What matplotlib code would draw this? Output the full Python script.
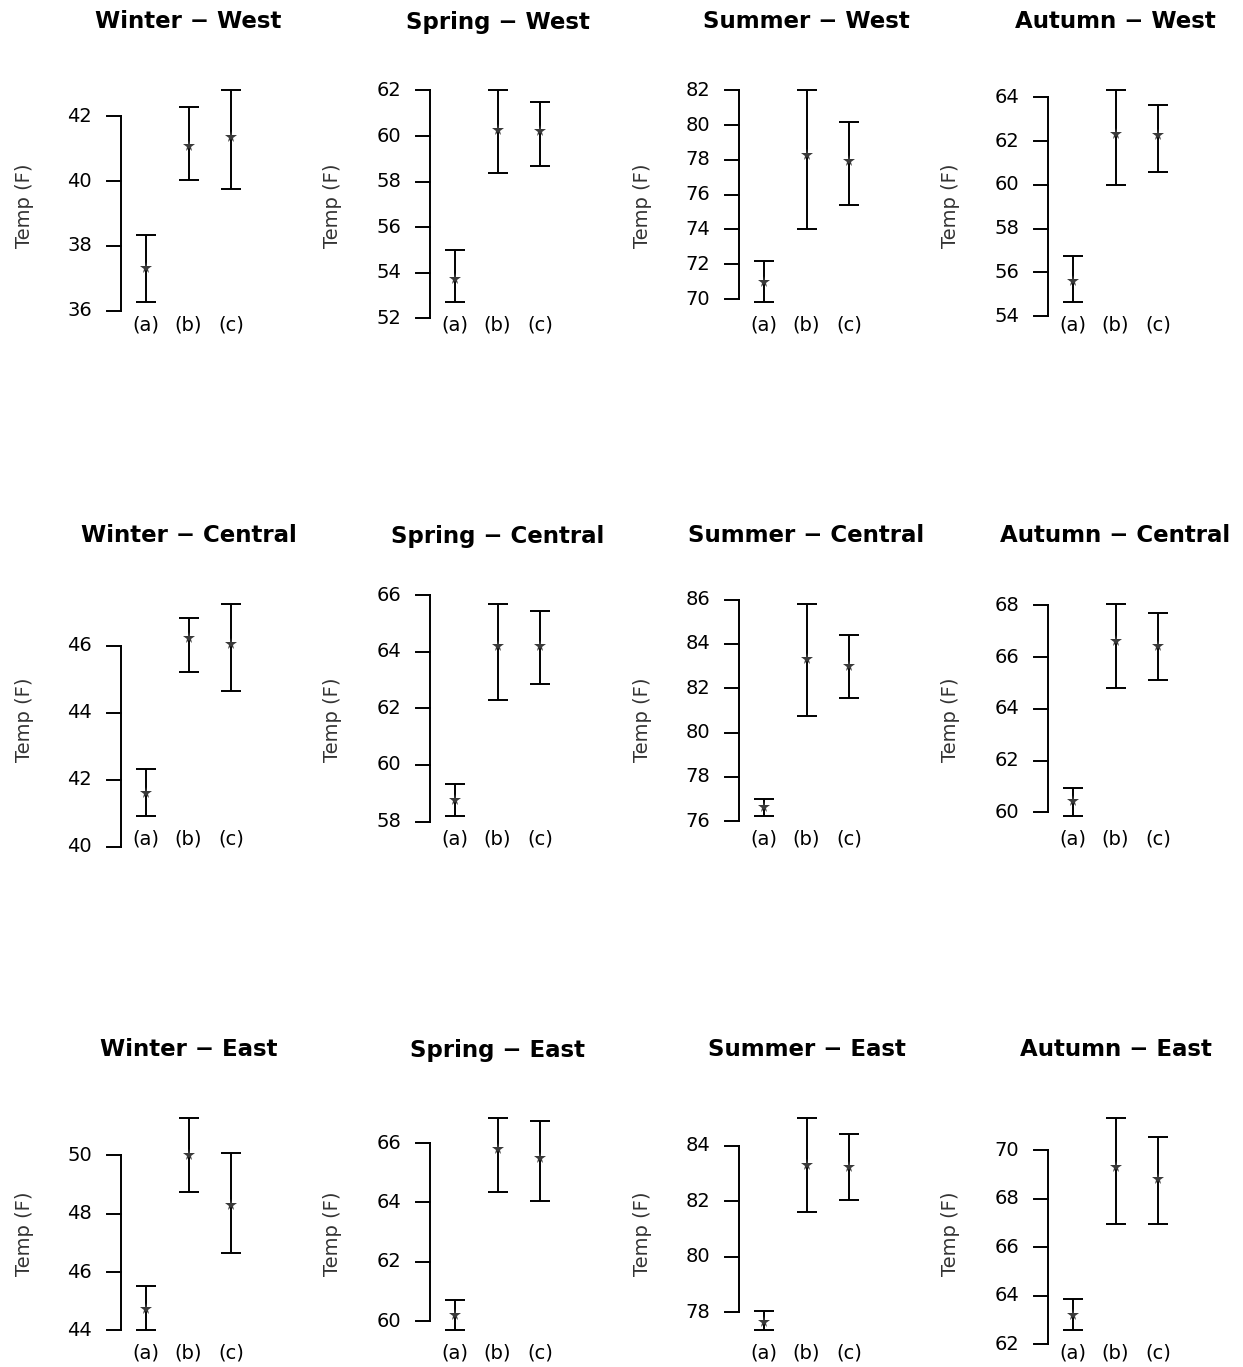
import numpy as np
import matplotlib.pyplot as plt

seasons = ["Winter", "Spring", "Summer", "Autumn"]
regions = ["West", "Central", "East"]
groups = ["(a)", "(b)", "(c)"]

# mean, lower and upper end of the error bar, one row per season
west_mean = [[37.30, 41.10, 41.37], [53.75, 60.25, 60.20], [71.00, 78.30, 77.96], [55.63, 62.33, 62.28]]
west_lo = [[36.25, 40.03, 39.75], [52.70, 58.36, 58.70], [69.80, 74.00, 75.40], [54.63, 60.00, 60.60]]
west_hi = [[38.35, 42.30, 42.83], [54.98, 62.04, 61.50], [72.20, 82.05, 80.20], [56.76, 64.36, 63.64]]

central_mean = [[41.59, 46.25, 46.06], [58.76, 64.20, 64.20], [76.63, 83.30, 83.00], [60.43, 66.63, 66.44]]
central_lo = [[40.90, 45.22, 44.66], [58.18, 62.30, 62.86], [76.22, 80.73, 81.54], [59.84, 64.80, 65.11]]
central_hi = [[42.33, 46.84, 47.27], [59.33, 65.70, 65.42], [77.03, 85.82, 84.40], [60.94, 68.07, 67.69]]

east_mean = [[44.73, 50.00, 48.29], [60.20, 65.79, 65.49], [77.67, 83.31, 83.24], [63.22, 69.31, 68.82]]
east_lo = [[44.00, 48.74, 46.65], [59.69, 64.35, 64.05], [77.35, 81.61, 82.05], [62.57, 66.98, 66.98]]
east_hi = [[45.53, 51.29, 50.07], [60.72, 66.86, 66.75], [78.04, 85.01, 84.40], [63.88, 71.35, 70.53]]

west_ticks = [[36, 38, 40, 42], [52, 54, 56, 58, 60, 62], [70, 72, 74, 76, 78, 80, 82], [54, 56, 58, 60, 62, 64]]
central_ticks = [[40, 42, 44, 46], [58, 60, 62, 64, 66], [76, 78, 80, 82, 84, 86], [60, 62, 64, 66, 68]]
east_ticks = [[44, 46, 48, 50], [60, 62, 64, 66], [78, 80, 82, 84], [62, 64, 66, 68, 70]]

means = [west_mean, central_mean, east_mean]
lows = [west_lo, central_lo, east_lo]
highs = [west_hi, central_hi, east_hi]
ticks_all = [west_ticks, central_ticks, east_ticks]

W, H = 1243, 1367
fig = plt.figure(figsize=(W / 100, H / 100), dpi=100)

x = np.arange(1, 4)
for r, region in enumerate(regions):
    for c, season in enumerate(seasons):
        left = 121 + 309 * c
        top = 81 + 514 * r
        ax = fig.add_axes([left / W, 1 - (top + 230) / H, 135 / W, 230 / H])

        m = np.array(means[r][c])
        lo = np.array(lows[r][c])
        hi = np.array(highs[r][c])
        ax.errorbar(x, m, yerr=[m - lo, hi - m], fmt="none", ecolor="black",
                    elinewidth=1.4, capsize=7.5, capthick=1.4)
        ax.plot(x, m, "*", color="#3a3a3a", ms=8.5, mew=0)

        span = hi.max() - lo.min()
        ax.set_ylim(lo.min() - 0.04 * span, hi.max() + 0.04 * span)
        ax.set_xlim(0.41, 3.59)

        for s in ax.spines.values():
            s.set_visible(False)
        ax.set_yticks([])
        ax.set_xticks(x, groups)
        ax.tick_params(axis="x", length=0, pad=3, labelsize=14)

        # R style y axis: line only between first and last tick
        t = ticks_all[r][c]
        tr = ax.get_yaxis_transform()
        ax.plot([0, 0], [t[0], t[-1]], transform=tr, color="black", lw=1.4, clip_on=False)
        for v in t:
            ax.plot([-0.104, 0], [v, v], transform=tr, color="black", lw=1.4, clip_on=False)
            ax.text(-0.215, v, str(v), transform=tr, ha="right", va="center", fontsize=14)

        ax.text(-97 / 135, 0.457, "Temp (F)", transform=ax.transAxes, rotation=90,
                ha="center", va="center", fontsize=14, color="#333333")
        ax.text(0.5, 1 + 59 / 230, f"{season} \u2212 {region}", transform=ax.transAxes,
                ha="center", va="center", fontsize=16.5, fontweight="bold")

fig.savefig("out.png", dpi=100)
